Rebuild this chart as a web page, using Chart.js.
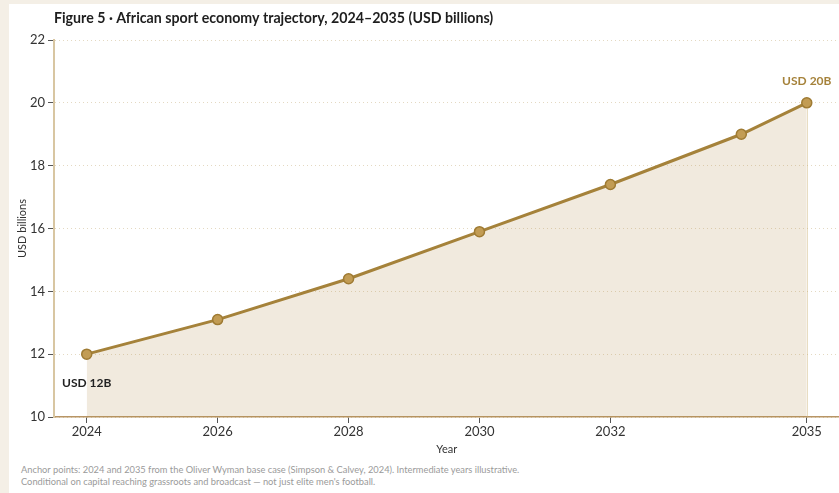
<!DOCTYPE html>
<html>
<head>
<meta charset="utf-8">
<script src="https://cdn.jsdelivr.net/npm/chart.js@4.4.1/dist/chart.umd.min.js"></script>
<style>
  html, body {
    margin: 0;
    padding: 0;
    background: #f4efe6;
    width: 839px;
    height: 493px;
    overflow: hidden;
  }
  #panel {
    position: absolute;
    left: 9px;
    top: 4px;
    width: 830px;
    height: 489px;
    background: #ffffff;
    overflow: hidden;
  }
  #chart {
    position: absolute;
    left: 0;
    top: 0;
  }
  #note {
    position: absolute;
    left: 12px;
    top: 460px;
    font-family: Lato, "Open Sans", sans-serif;
    font-size: 9.3px;
    line-height: 12px;
    color: #9a9a9a;
    white-space: nowrap;
  }
</style>
</head>
<body>
<div id="panel">
  <canvas id="chart" width="837" height="456"></canvas>
  <div id="note">
    Anchor points: 2024 and 2035 from the Oliver Wyman base case (Simpson &amp; Calvey, 2024). Intermediate years illustrative.<br>
    Conditional on capital reaching grassroots and broadcast — not just elite men's football.
  </div>
</div>
<script>
const years = [2024, 2026, 2028, 2030, 2032, 2034, 2035];
const values = [12.0, 13.1, 14.4, 15.9, 17.4, 19.0, 20.0];
const yearTicks = [2024, 2026, 2028, 2030, 2032, 2035];
const anchorLabels = [
  { year: 2024, value: 12.0, text: "USD 12B" },
  { year: 2035, value: 20.0, text: "USD 20B" },
];

const FONT = "Lato, 'Open Sans', sans-serif";
const GOLD = "#a5823a";

// title, anchor captions and the right-hand edge of the shaded area
const decorations = {
  id: "decorations",
  afterDatasetsDraw(chart) {
    const { ctx, chartArea, scales } = chart;
    const x = scales.x;
    const y = scales.y;
    ctx.save();

    const last = anchorLabels[anchorLabels.length - 1];
    const edgeX = Math.round(x.getPixelForValue(last.year)) + 0.5;
    ctx.strokeStyle = "rgba(205, 180, 120, 0.45)";
    ctx.lineWidth = 1;
    ctx.beginPath();
    ctx.moveTo(edgeX, y.getPixelForValue(last.value) + 5);
    ctx.lineTo(edgeX, chartArea.bottom);
    ctx.stroke();

    ctx.textAlign = "center";
    ctx.textBaseline = "middle";
    ctx.font = "bold 12px " + FONT;
    ctx.fillStyle = "#222222";
    const first = anchorLabels[0];
    ctx.fillText(first.text, x.getPixelForValue(first.year), y.getPixelForValue(first.value) + 29);
    ctx.fillStyle = GOLD;
    ctx.fillText(last.text, x.getPixelForValue(last.year), y.getPixelForValue(last.value) - 22);

    ctx.textAlign = "left";
    ctx.font = "bold 14.2px " + FONT;
    ctx.fillStyle = "#1e1e1e";
    ctx.fillText("Figure 5 · African sport economy trajectory, 2024–2035 (USD billions)", chartArea.left, 14);
    ctx.restore();
  },
};

new Chart(document.getElementById("chart"), {
  type: "line",
  data: {
    datasets: [
      {
        data: years.map((yr, i) => ({ x: yr, y: values[i] })),
        borderColor: GOLD,
        borderWidth: 3,
        backgroundColor: "rgba(176, 140, 70, 0.18)",
        fill: "start",
        tension: 0,
        pointRadius: 5,
        pointBackgroundColor: "#c29c54",
        pointBorderColor: "#9f7b33",
        pointBorderWidth: 1.5,
      },
    ],
  },
  options: {
    responsive: false,
    devicePixelRatio: 1,
    animation: false,
    layout: {
      padding: { top: 36, left: 0, right: 0, bottom: 0 },
    },
    scales: {
      x: {
        type: "linear",
        min: 2023.5,
        max: 2035.5,
        afterBuildTicks: (scale) => {
          scale.ticks = yearTicks.map((v) => ({ value: v }));
        },
        afterFit: (scale) => {
          scale.height = 43;
        },
        ticks: {
          callback: (value) => String(value),
          color: "#333333",
          font: { family: FONT, size: 13 },
          padding: 1,
          maxRotation: 0,
        },
        grid: {
          drawOnChartArea: false,
          tickLength: 6,
          tickColor: "#555555",
        },
        border: {
          color: "#b89565",
          width: 1.5,
        },
        title: {
          display: true,
          text: "Year",
          color: "#333333",
          font: { family: FONT, size: 11 },
          padding: { top: 0, bottom: 4 },
        },
      },
      y: {
        min: 10,
        max: 22,
        afterFit: (scale) => {
          scale.width = 45;
        },
        ticks: {
          stepSize: 2,
          color: "#333333",
          font: { family: FONT, size: 13 },
          padding: 3,
        },
        grid: {
          color: "#e4d9c2",
          tickLength: 6,
          tickColor: "#555555",
          tickBorderDash: [],
        },
        border: {
          color: "#d8c6a2",
          width: 2,
          dash: [1, 3],
        },
        title: {
          display: true,
          text: "USD billions",
          color: "#333333",
          font: { family: FONT, size: 11 },
          padding: { top: 7, bottom: 4 },
        },
      },
    },
    plugins: {
      legend: { display: false },
      tooltip: { enabled: false },
      title: { display: false },
    },
  },
  plugins: [decorations],
});
</script>
</body>
</html>
